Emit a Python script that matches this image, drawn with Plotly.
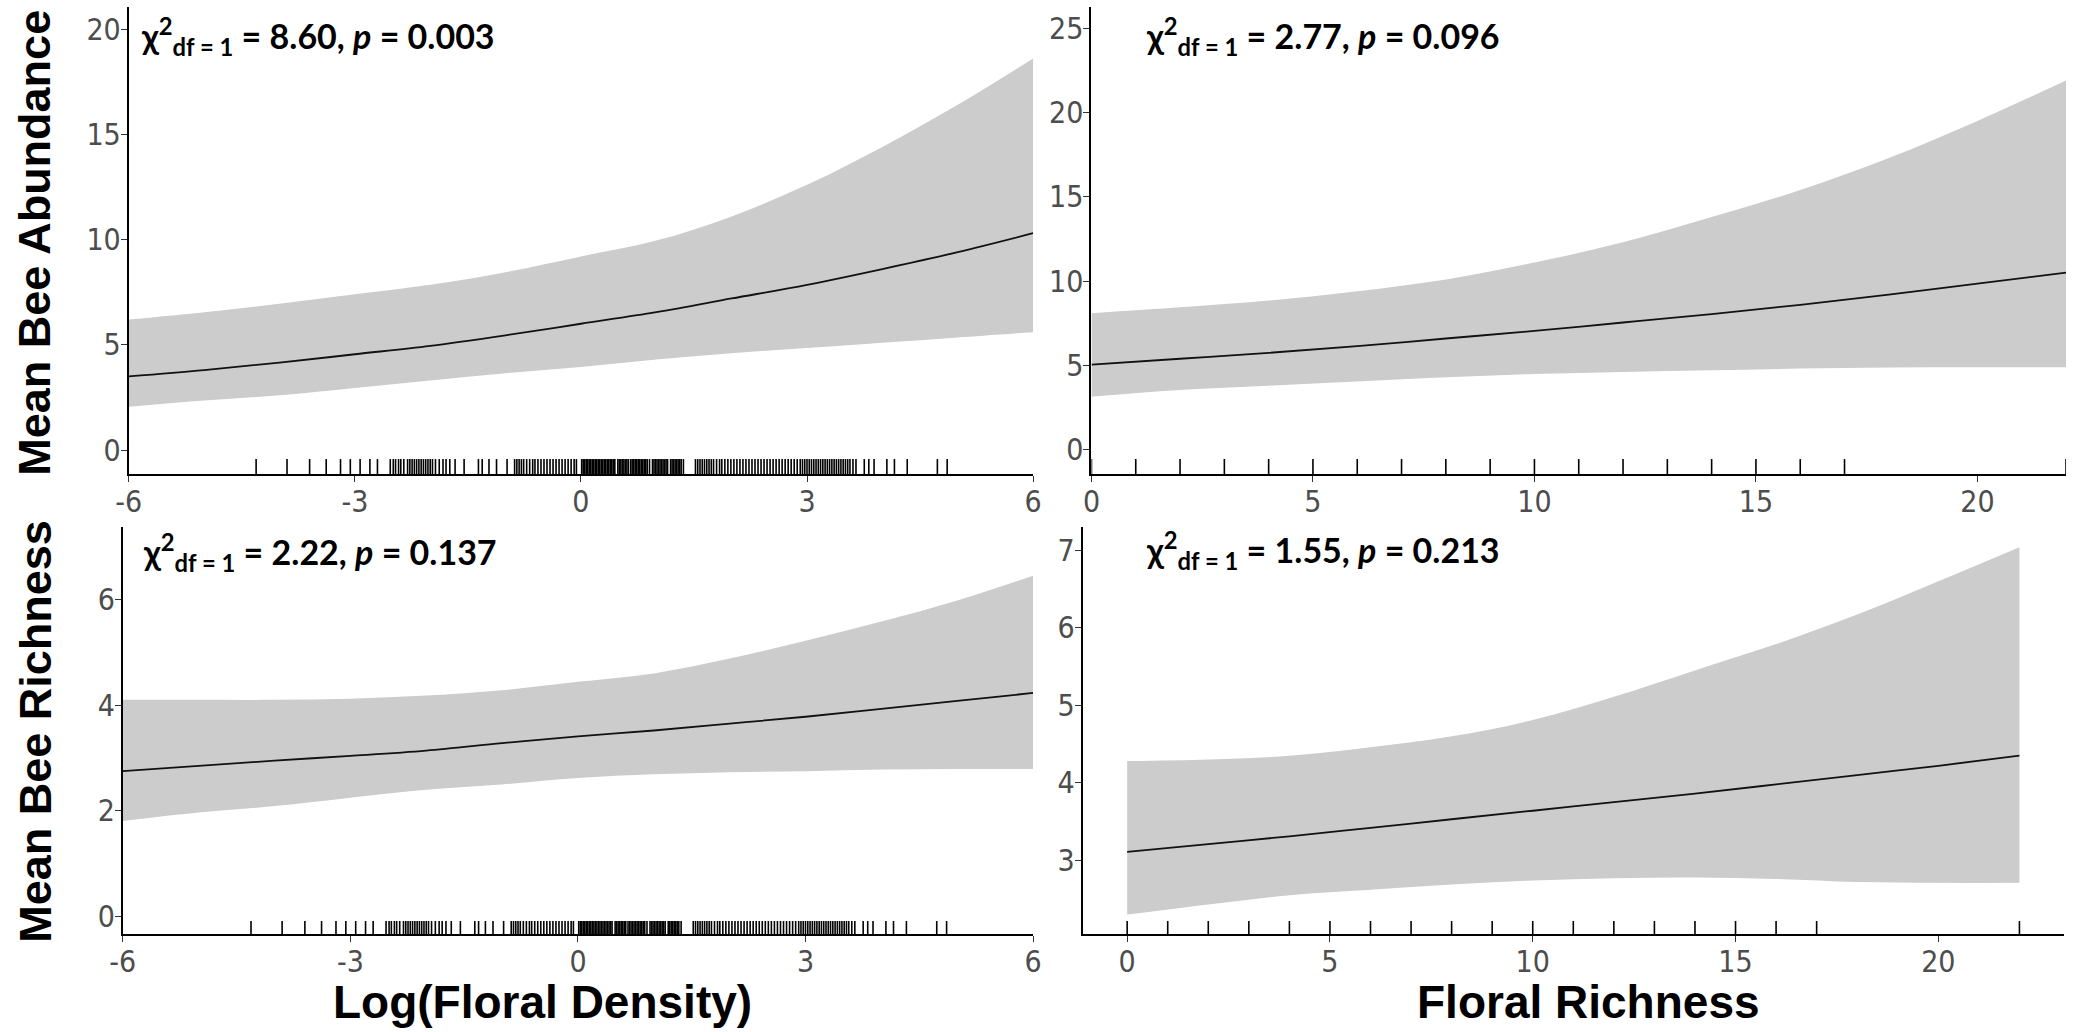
import plotly.graph_objects as go

W, H = 2077, 1032

# ---------------- data ----------------
dens_x = [-6, -5, -4, -3, -2, -1, 0, 1, 2, 3, 4, 5, 6]
abund_dens_fit = [3.50, 3.80, 4.15, 4.55, 4.95, 5.45, 6.00, 6.55, 7.20, 7.85, 8.60, 9.40, 10.30]
abund_dens_lo = [2.05, 2.35, 2.60, 2.95, 3.30, 3.65, 3.95, 4.30, 4.60, 4.85, 5.10, 5.35, 5.60]
abund_dens_hi = [6.20, 6.55, 6.95, 7.40, 7.85, 8.45, 9.20, 9.95, 11.10, 12.60, 14.40, 16.40, 18.60]

rich_dens_fit = [2.75, 2.85, 2.95, 3.04, 3.14, 3.28, 3.41, 3.52, 3.65, 3.78, 3.93, 4.08, 4.23]
rich_dens_lo = [1.81, 1.97, 2.09, 2.25, 2.40, 2.50, 2.62, 2.69, 2.73, 2.75, 2.78, 2.79, 2.79]
rich_dens_hi = [4.10, 4.10, 4.10, 4.12, 4.18, 4.28, 4.44, 4.60, 4.88, 5.22, 5.58, 5.98, 6.45]

frich_x = [0, 2, 4, 6, 8, 10, 12, 14, 16, 18, 20, 22]
abund_frich_fit = [5.05, 5.40, 5.75, 6.15, 6.60, 7.05, 7.55, 8.05, 8.60, 9.20, 9.85, 10.50]
abund_frich_lo = [3.15, 3.55, 3.80, 4.05, 4.30, 4.50, 4.62, 4.72, 4.82, 4.88, 4.90, 4.90]
abund_frich_hi = [8.10, 8.45, 8.85, 9.40, 10.10, 11.10, 12.30, 13.80, 15.40, 17.30, 19.50, 21.90]

rich_frich_fit = [3.11, 3.21, 3.31, 3.42, 3.53, 3.64, 3.75, 3.86, 3.98, 4.10, 4.22, 4.35]
rich_frich_lo = [2.30, 2.43, 2.55, 2.62, 2.69, 2.74, 2.77, 2.78, 2.76, 2.72, 2.71, 2.71]
rich_frich_hi = [4.28, 4.30, 4.35, 4.46, 4.60, 4.81, 5.11, 5.45, 5.79, 6.17, 6.60, 7.04]

# observed predictor values (rug)
log_floral_density_obs = [
    -4.31, -3.90, -3.60, -3.38, -3.19, -3.06, -2.93, -2.80, -2.70,
    -2.53, -2.49, -2.46, -2.42, -2.39, -2.35, -2.30, -2.27, -2.24, -2.21, -2.18,
    -2.15, -2.12, -2.09, -2.06, -2.03, -2.00, -1.97, -1.93, -1.88, -1.83, -1.79,
    -1.74, -1.67, -1.55, -1.36, -1.31, -1.22, -1.12, -0.98,
    -0.88, -0.85, -0.82, -0.79, -0.76, -0.72, -0.68, -0.64, -0.61, -0.57, -0.53,
    -0.49, -0.45, -0.41, -0.37, -0.33, -0.29, -0.25, -0.21, -0.17, -0.13, -0.09, -0.06,
    0.01, 0.03, 0.05, 0.07, 0.09, 0.11, 0.13, 0.15, 0.17, 0.19, 0.21, 0.23, 0.25,
    0.27, 0.29, 0.31, 0.33, 0.35, 0.37, 0.39, 0.41, 0.43, 0.45, 0.49, 0.51, 0.53,
    0.55, 0.57, 0.59, 0.61, 0.63, 0.66, 0.68, 0.70, 0.72, 0.74, 0.76, 0.78, 0.80,
    0.82, 0.84, 0.86, 0.88, 0.91, 0.95, 0.97, 0.99, 1.01, 1.03, 1.05, 1.07, 1.09,
    1.11, 1.13, 1.15, 1.19, 1.21, 1.23, 1.25, 1.27, 1.29, 1.31, 1.33, 1.36,
    1.52, 1.55, 1.58, 1.61, 1.64, 1.67, 1.70, 1.73, 1.76, 1.80, 1.84, 1.87, 1.91,
    1.95, 1.99, 2.03, 2.07, 2.11, 2.15, 2.19, 2.23, 2.27, 2.31, 2.35, 2.39, 2.43,
    2.47, 2.51, 2.55, 2.59, 2.63, 2.67, 2.71, 2.75, 2.79, 2.83, 2.87, 2.91, 2.94,
    2.97, 3.00, 3.03, 3.06, 3.09, 3.12, 3.15, 3.18, 3.21, 3.24, 3.27, 3.30, 3.33,
    3.36, 3.39, 3.42, 3.45, 3.48, 3.51, 3.54, 3.57, 3.61, 3.65,
    3.76, 3.82, 3.89, 4.06, 4.16, 4.33, 4.73, 4.86,
]
floral_richness_obs = [0, 1, 2, 3, 4, 5, 6, 7, 8, 9, 10, 11, 12, 13, 14, 15, 16, 17, 22]

chi_values = ["8.60", "2.77", "2.22", "1.55"]
p_values = ["0.003", "0.096", "0.137", "0.213"]

dens_ticks = [-6, -3, 0, 3, 6]
dens_ticklabels = ["-6", "-3", "0", "3", "6"]
frich_ticks = [0, 5, 10, 15, 20]
abund_ticks_left = [0, 5, 10, 15, 20]
abund_ticks_right = [0, 5, 10, 15, 20, 25]
rich_ticks_left = [0, 2, 4, 6]
rich_ticks_right = [3, 4, 5, 6, 7]

y_title_top = "Mean Bee Abundance"
y_title_bottom = "Mean Bee Richness"
x_title_left = "Log(Floral Density)"
x_title_right = "Floral Richness"

# ---------------- layout helpers ----------------
def px_x(v):
    return v / W


def px_y(v):
    return 1 - v / H


RIBBON = "#CCCCCC"
TICK_FONT = dict(family="Liberation Sans Narrow, DejaVu Sans Condensed, Arial Narrow, sans-serif",
                 size=30, color="#4D4D4D")

fig = go.Figure()

panels = [
    # (xaxis id, yaxis id, x data, fit, lo, hi, rug, xdomain px, ydomain px, xrange, yrange, xticks, xticktext, yticks)
    ("x", "y", dens_x, abund_dens_fit, abund_dens_lo, abund_dens_hi, log_floral_density_obs,
     (117, 1031), (7, 474), [-6, 6], [-1.14, 21.05], dens_ticks, dens_ticklabels, abund_ticks_left),
    ("x2", "y2", frich_x, abund_frich_fit, abund_frich_lo, abund_frich_hi, floral_richness_obs,
     (1090, 2075), (7, 474), [0, 22], [-1.43, 26.25], frich_ticks, None, abund_ticks_right),
    ("x3", "y3", dens_x, rich_dens_fit, rich_dens_lo, rich_dens_hi, log_floral_density_obs,
     (111, 1031), (527, 934), [-6, 6], [-0.33, 7.37], dens_ticks, dens_ticklabels, rich_ticks_left),
    ("x4", "y4", frich_x, rich_frich_fit, rich_frich_lo, rich_frich_hi, floral_richness_obs,
     (1081, 2073), (527, 934), [-1.1, 23.1], [2.05, 7.3], frich_ticks, None, rich_ticks_right),
]

shapes = []
layout_axes = {}
for (xa, ya, xs, fit, lo, hi, rug, xd, yd, xr, yr, xt, xtt, yt) in panels:
    # ribbon (lower bound, then upper filled to it)
    fig.add_trace(go.Scatter(
        x=xs, y=lo, mode="lines", line=dict(width=0, color=RIBBON, shape="spline"),
        xaxis=xa, yaxis=ya, hoverinfo="skip", showlegend=False,
    ))
    fig.add_trace(go.Scatter(
        x=xs, y=hi, mode="lines", fill="tonexty", fillcolor=RIBBON,
        line=dict(width=0, color=RIBBON, shape="spline"),
        xaxis=xa, yaxis=ya, hoverinfo="skip", showlegend=False,
    ))
    # fitted line
    fig.add_trace(go.Scatter(
        x=xs, y=fit, mode="lines", line=dict(color="#111111", width=1.8, shape="spline"),
        xaxis=xa, yaxis=ya, showlegend=False,
    ))
    # rug
    for v in rug:
        shapes.append(dict(type="line", xref=xa, yref=f"{ya} domain", x0=v, x1=v, y0=0, y1=0.032,
                           line=dict(color="black", width=1.6)))

    xkey = "xaxis" if xa == "x" else "xaxis" + xa[1:]
    ykey = "yaxis" if ya == "y" else "yaxis" + ya[1:]
    xax = dict(
        domain=[px_x(xd[0]), px_x(xd[1])], range=xr, anchor=ya,
        tickvals=xt, showgrid=False, zeroline=False,
        showline=True, linecolor="black", linewidth=2,
        ticks="outside", ticklen=6, tickwidth=1.3, tickcolor="#333333",
        tickfont=TICK_FONT, fixedrange=True, ticklabelstandoff=-6,
    )
    if xtt is not None:
        xax["ticktext"] = xtt
    layout_axes[xkey] = xax
    layout_axes[ykey] = dict(
        domain=[px_y(yd[1]), px_y(yd[0])], range=yr, anchor=xa,
        tickvals=yt, showgrid=False, zeroline=False,
        showline=True, linecolor="black", linewidth=2,
        ticks="outside", ticklen=6, tickwidth=1.3, tickcolor="#333333",
        tickfont=TICK_FONT, fixedrange=True, ticklabelstandoff=-6,
    )

annotations = []
# statistics labels
stat_pos = [(127, 37), (1143, 37), (129, 552), (1143, 550)]
for (cx, cy), chi, p in zip(stat_pos, chi_values, p_values):
    annotations.append(dict(
        x=px_x(cx), y=px_y(cy), xref="paper", yref="paper", xanchor="left", yanchor="middle",
        text=f"<b>χ<sup>2</sup><sub>df = 1</sub> = {chi}, <i>p</i> = {p}</b>",
        showarrow=False, font=dict(family="Lato, Open Sans, sans-serif", size=34, color="black"),
    ))

# axis titles
YT_FONT = dict(family="Liberation Sans, Arial, sans-serif", size=45, color="black")
XT_FONT = dict(family="Liberation Sans, Arial, sans-serif", size=46, color="black")
annotations.append(dict(x=px_x(22), y=px_y(243), xref="paper", yref="paper", text=f"<b>{y_title_top}</b>",
                        textangle=-90, showarrow=False, font=YT_FONT, xanchor="center", yanchor="middle"))
annotations.append(dict(x=px_x(22), y=px_y(731), xref="paper", yref="paper", text=f"<b>{y_title_bottom}</b>",
                        textangle=-90, showarrow=False, font=YT_FONT, xanchor="center", yanchor="middle"))
annotations.append(dict(x=px_x(535), y=px_y(1002), xref="paper", yref="paper", text=f"<b>{x_title_left}</b>",
                        showarrow=False, font=XT_FONT, xanchor="center", yanchor="middle"))
annotations.append(dict(x=px_x(1592), y=px_y(1002), xref="paper", yref="paper", text=f"<b>{x_title_right}</b>",
                        showarrow=False, font=XT_FONT, xanchor="center", yanchor="middle"))

fig.update_layout(
    width=W, height=H, margin=dict(l=0, r=0, t=0, b=0),
    paper_bgcolor="white", plot_bgcolor="white",
    shapes=shapes, annotations=annotations, showlegend=False,
    **layout_axes,
)

fig.write_html("out.html", config={"displayModeBar": False})
